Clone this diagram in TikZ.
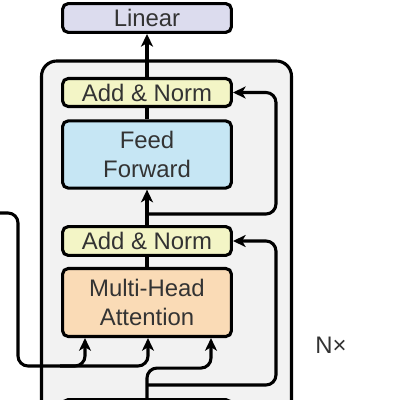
\documentclass[tikz,border=0pt]{standalone}
\usepackage{fontspec}
\setmainfont{Liberation Sans}
\usepackage{tikz}
\usetikzlibrary{arrows.meta,calc}
\definecolor{blockgray}{HTML}{F2F2F2}
\definecolor{linearfill}{HTML}{DCDCEE}
\definecolor{normfill}{HTML}{F3F5C6}
\definecolor{ffnfill}{HTML}{C6E6F4}
\definecolor{attnfill}{HTML}{FADBB6}
\definecolor{labelgray}{HTML}{333333}
\tikzset{
    layerbox/.style={draw=black, line width=2.2pt, rounded corners=4pt, minimum width=4.22cm,
        inner sep=0pt, align=center, text=labelgray, font=\fontsize{17}{21}\selectfont},
    flowline/.style={line width=2.2pt, rounded corners=0.25cm},
    flowarrow/.style={flowline, -{Stealth[length=9pt, width=8.5pt, inset=2.5pt]}}
}

\begin{document}
\begin{tikzpicture}[x=0.025cm, y=-0.025cm]
    \clip (0,0) rectangle (400,400);
    % decoder block
    \draw[line width=2.2pt, rounded corners=0.38cm, fill=blockgray] (41.5,61) rectangle (291.5,460);
    % layers
    \node[layerbox, fill=linearfill, minimum height=0.72cm] (linear) at (147,18) {Linear};
    \node[layerbox, fill=normfill, minimum height=0.7cm] (norm2) at (147,92.5) {Add \& Norm};
    \node[layerbox, fill=ffnfill, minimum height=1.68cm] (ffn) at (147,154.5) {Feed\\Forward};
    \node[layerbox, fill=normfill, minimum height=0.72cm] (norm1) at (147,241) {Add \& Norm};
    \node[layerbox, fill=attnfill, minimum height=1.7cm] (attn) at (147,302.5) {Multi-Head\\Attention};
    \node[layerbox, fill=normfill, minimum height=0.72cm] (norm0) at (147,414) {};
    \node[text=labelgray, font=\fontsize{17}{21}\selectfont] (nx) at (331,345) {N×};
    % inputs and residual taps
    \coordinate (encout) at (-5,213);
    \coordinate (tap2) at (147,214);
    \coordinate (tap1) at (147,385);
    \coordinate (qin) at ($(attn.south)+(-62,0)$);
    \coordinate (kin) at ($(attn.south)+(1,0)$);
    \coordinate (vin) at ($(attn.south)+(64,0)$);
    % main path
    \draw[flowarrow] (norm2.north) -- (linear.south);
    \draw[flowline] (ffn.north) -- (norm2.south);
    \draw[flowarrow] (norm1.north) -- (ffn.south);
    \draw[flowline] (attn.north) -- (norm1.south);
    \draw[flowarrow] (tap2) -| ($(norm2.east)+(43,0)$) -- (norm2.east);
    \draw[flowarrow] (tap1) -| ($(norm1.east)+(43,0)$) -- (norm1.east);
    % attention inputs
    \draw[flowarrow] (encout) -| (18,366) -| (qin);
    \draw[flowarrow] (60,366) -| (kin);
    \draw[flowarrow] (norm0.north) |- ($(vin)+(0,30)$) -- (vin);
\end{tikzpicture}
\end{document}
